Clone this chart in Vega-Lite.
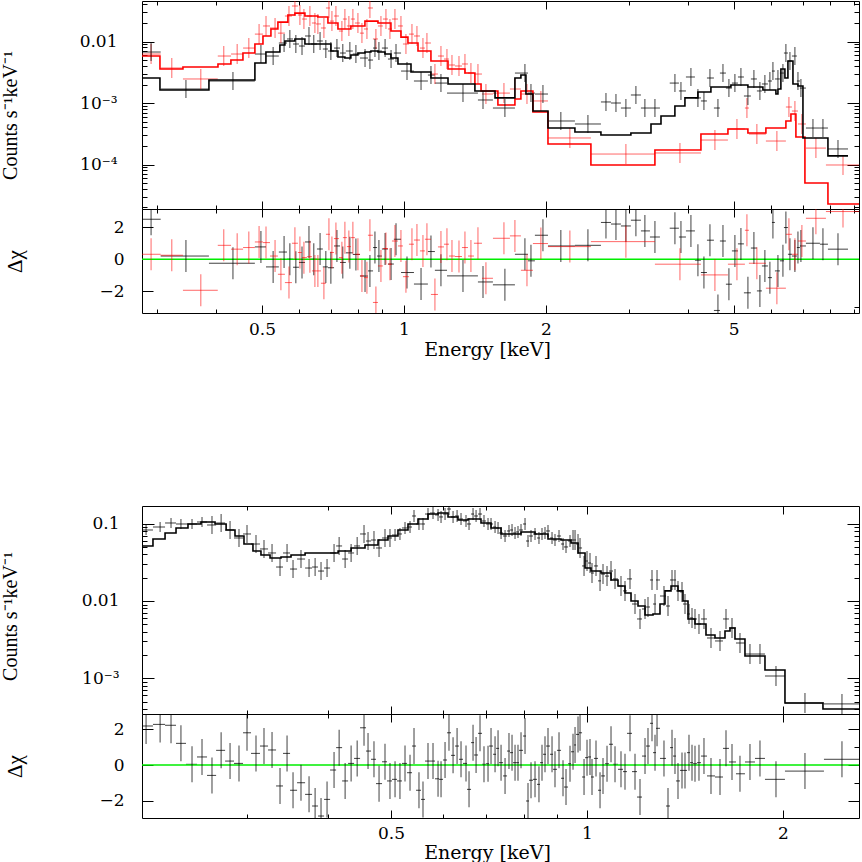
{
"$schema":"https://vega.github.io/schema/vega-lite/v6.json",
"padding":{"left":0,"top":0,"right":0,"bottom":0},
"spacing":146,
"config":{"view":{"stroke":null},"axis":{"grid":false,"domainColor":"#000000","domainWidth":1,"tickColor":"#000000","tickWidth":1,"labelFont":"DejaVu Serif","labelFontSize":17,"labelColor":"#000000","labelOverlap":false,"labelFlush":false,"labelBound":false,"titleFont":"Liberation Serif","titleFontWeight":"normal","titleColor":"#000000","titleFontSize":20}},
"datasets":{
"tb":[
{"e":0.291,"e1":0.278,"e2":0.305,"c":0.00675,"r":2.5},
{"e":0.345,"e1":0.305,"e2":0.386,"c":0.00169,"r":0.2},
{"e":0.434,"e1":0.386,"e2":0.483,"c":0.00228,"r":-0.25},
{"e":0.4975,"e1":0.483,"e2":0.510,"c":0.00626,"r":0.77},
{"e":0.528,"e1":0.510,"e2":0.543,"c":0.00581,"r":-0.48},
{"e":0.557,"e1":0.543,"e2":0.565,"c":0.00946,"r":0.45},
{"e":0.573,"e1":0.565,"e2":0.582,"c":0.0110,"r":0},
{"e":0.590,"e1":0.582,"e2":0.599,"c":0.00911,"r":-0.5},
{"e":0.608,"e1":0.599,"e2":0.617,"c":0.00845,"r":-0.2},
{"e":0.629,"e1":0.617,"e2":0.635,"c":0.0123,"r":1.08},
{"e":0.644,"e1":0.635,"e2":0.654,"c":0.00911,"r":0},
{"e":0.664,"e1":0.654,"e2":0.673,"c":0.0102,"r":0.64},
{"e":0.683,"e1":0.673,"e2":0.690,"c":0.00755,"r":-0.48},
{"e":0.700,"e1":0.690,"e2":0.711,"c":0.00701,"r":-0.53},
{"e":0.721,"e1":0.711,"e2":0.732,"c":0.00783,"r":0.83},
{"e":0.742,"e1":0.732,"e2":0.753,"c":0.0065,"r":-0.2},
{"e":0.768,"e1":0.753,"e2":0.779,"c":0.00701,"r":0.4},
{"e":0.791,"e1":0.779,"e2":0.807,"c":0.00626,"r":0.3},
{"e":0.827,"e1":0.807,"e2":0.839,"c":0.00539,"r":-1.05},
{"e":0.847,"e1":0.839,"e2":0.860,"c":0.0050,"r":-0.73},
{"e":0.868,"e1":0.860,"e2":0.877,"c":0.00783,"r":0.73},
{"e":0.885,"e1":0.877,"e2":0.898,"c":0.00701,"r":0.2},
{"e":0.912,"e1":0.898,"e2":0.925,"c":0.00783,"r":0.64},
{"e":0.939,"e1":0.925,"e2":0.952,"c":0.00519,"r":-0.3},
{"e":0.962,"e1":0.952,"e2":0.986,"c":0.0065,"r":1.25},
{"e":1.015,"e1":0.986,"e2":1.050,"c":0.00331,"r":-0.83},
{"e":1.087,"e1":1.050,"e2":1.124,"c":0.00228,"r":-1.55},
{"e":1.141,"e1":1.124,"e2":1.163,"c":0.00285,"r":0.48},
{"e":1.198,"e1":1.163,"e2":1.234,"c":0.00211,"r":-0.69},
{"e":1.334,"e1":1.234,"e2":1.435,"c":0.00145,"r":-1.04},
{"e":1.471,"e1":1.435,"e2":1.544,"c":0.00112,"r":-1.42},
{"e":1.637,"e1":1.544,"e2":1.719,"c":0.000829,"r":-1.6},
{"e":1.805,"e1":1.719,"e2":1.832,"c":0.00307,"r":0.31},
{"e":1.859,"e1":1.832,"e2":1.895,"c":0.00145,"r":-0.1},
{"e":1.971,"e1":1.895,"e2":2.020,"c":0.0014,"r":1.5},
{"e":2.151,"e1":2.020,"e2":2.304,"c":0.00051,"r":0.83},
{"e":2.455,"e1":2.304,"e2":2.616,"c":0.000456,"r":0.87},
{"e":2.681,"e1":2.616,"e2":2.747,"c":0.00104,"r":2.3},
{"e":2.815,"e1":2.747,"e2":2.884,"c":0.0010,"r":2.2},
{"e":2.955,"e1":2.884,"e2":3.028,"c":0.000829,"r":2.08},
{"e":3.103,"e1":3.028,"e2":3.180,"c":0.00135,"r":2.44},
{"e":3.242,"e1":3.180,"e2":3.323,"c":0.000829,"r":1.77},
{"e":3.405,"e1":3.323,"e2":3.489,"c":0.000829,"r":1.39},
{"e":3.754,"e1":3.66,"e2":3.828,"c":0.00211,"r":1.94},
{"e":3.866,"e1":3.828,"e2":3.961,"c":0.00157,"r":1.39},
{"e":4.059,"e1":3.961,"e2":4.139,"c":0.00265,"r":1.77},
{"e":4.200,"e1":4.139,"e2":4.262,"c":0.00121,"r":-0.06},
{"e":4.325,"e1":4.262,"e2":4.389,"c":0.00108,"r":-0.83},
{"e":4.454,"e1":4.389,"e2":4.541,"c":0.00255,"r":1.19},
{"e":4.631,"e1":4.541,"e2":4.676,"c":0.000829,"r":-3.2},
{"e":4.746,"e1":4.676,"e2":4.815,"c":0.00307,"r":1.14},
{"e":4.886,"e1":4.815,"e2":4.958,"c":0.00175,"r":-1.56},
{"e":5.031,"e1":4.958,"e2":5.106,"c":0.00211,"r":0.52},
{"e":5.181,"e1":5.106,"e2":5.257,"c":0.00265,"r":0.96},
{"e":5.361,"e1":5.257,"e2":5.439,"c":0.0013,"r":-2.1},
{"e":5.520,"e1":5.439,"e2":5.601,"c":0.00246,"r":0.7},
{"e":5.684,"e1":5.601,"e2":5.740,"c":0.00157,"r":-1.98},
{"e":5.824,"e1":5.740,"e2":5.911,"c":0.00204,"r":-0.42},
{"e":5.968,"e1":5.911,"e2":6.028,"c":0.00228,"r":-1.15},
{"e":6.057,"e1":6.028,"e2":6.116,"c":0.00331,"r":2.3},
{"e":6.207,"e1":6.116,"e2":6.267,"c":0.00246,"r":-0.73},
{"e":6.360,"e1":6.267,"e2":6.391,"c":0.00307,"r":-0.1},
{"e":6.453,"e1":6.391,"e2":6.517,"c":0.0065,"r":1.98},
{"e":6.581,"e1":6.517,"e2":6.645,"c":0.00482,"r":0.31},
{"e":6.743,"e1":6.645,"e2":6.809,"c":0.00581,"r":0.2},
{"e":6.844,"e1":6.809,"e2":6.910,"c":0.00228,"r":0.73},
{"e":6.944,"e1":6.910,"e2":7.116,"c":0.00175,"r":0.83},
{"e":7.364,"e1":7.116,"e2":7.619,"c":0.000392,"r":1.0},
{"e":7.732,"e1":7.619,"e2":7.923,"c":0.000392,"r":0.94},
{"e":8.321,"e1":7.923,"e2":8.738,"c":0.000179,"r":0.63}
],
"tr":[
{"e":0.291,"e1":0.278,"e2":0.305,"c":0.00626,"r":0.31},
{"e":0.322,"e1":0.305,"e2":0.340,"c":0.00371,"r":0.25},
{"e":0.371,"e1":0.340,"e2":0.403,"c":0.00246,"r":-1.94},
{"e":0.415,"e1":0.403,"e2":0.430,"c":0.00581,"r":0.87},
{"e":0.443,"e1":0.430,"e2":0.456,"c":0.00626,"r":0.63},
{"e":0.469,"e1":0.456,"e2":0.483,"c":0.00783,"r":0.73},
{"e":0.493,"e1":0.483,"e2":0.5025,"c":0.0132,"r":1.08},
{"e":0.510,"e1":0.5025,"e2":0.520,"c":0.0179,"r":1.04},
{"e":0.533,"e1":0.520,"e2":0.5405,"c":0.0166,"r":0.2},
{"e":0.5485,"e1":0.5405,"e2":0.5593,"c":0.0137,"r":-0.94},
{"e":0.5705,"e1":0.5593,"e2":0.5789,"c":0.026,"r":-1.46},
{"e":0.5873,"e1":0.5789,"e2":0.596,"c":0.0378,"r":1.0},
{"e":0.6018,"e1":0.596,"e2":0.6077,"c":0.027,"r":0.42},
{"e":0.6137,"e1":0.6077,"e2":0.6227,"c":0.0232,"r":0.1},
{"e":0.6319,"e1":0.6227,"e2":0.6381,"c":0.026,"r":0.16},
{"e":0.6475,"e1":0.6381,"e2":0.6507,"c":0.020,"r":-0.73},
{"e":0.657,"e1":0.6507,"e2":0.6668,"c":0.0193,"r":-0.73},
{"e":0.6766,"e1":0.6668,"e2":0.6833,"c":0.0166,"r":-1.5},
{"e":0.6934,"e1":0.6833,"e2":0.6968,"c":0.0351,"r":1.56},
{"e":0.7036,"e1":0.6968,"e2":0.7105,"c":0.0215,"r":0.42},
{"e":0.7175,"e1":0.7105,"e2":0.728,"c":0.026,"r":1.29},
{"e":0.7387,"e1":0.728,"e2":0.7423,"c":0.0148,"r":0.1},
{"e":0.7496,"e1":0.7423,"e2":0.757,"c":0.0232,"r":1.35},
{"e":0.7643,"e1":0.757,"e2":0.7718,"c":0.0179,"r":0.79},
{"e":0.7794,"e1":0.7718,"e2":0.7871,"c":0.0232,"r":1.35},
{"e":0.7988,"e1":0.7871,"e2":0.8066,"c":0.020,"r":0.31},
{"e":0.8146,"e1":0.8066,"e2":0.8226,"c":0.0137,"r":-1.04},
{"e":0.8347,"e1":0.8226,"e2":0.8388,"c":0.016,"r":-1.15},
{"e":0.847,"e1":0.8388,"e2":0.8595,"c":0.0351,"r":1.5},
{"e":0.8721,"e1":0.8595,"e2":0.8809,"c":0.011,"r":-2.7},
{"e":0.8938,"e1":0.8809,"e2":0.9026,"c":0.0179,"r":-0.42},
{"e":0.9159,"e1":0.9026,"e2":0.9249,"c":0.0232,"r":0.67},
{"e":0.9339,"e1":0.9249,"e2":0.9432,"c":0.016,"r":-0.31},
{"e":0.957,"e1":0.9432,"e2":0.9712,"c":0.0232,"r":1.14},
{"e":0.9855,"e1":0.9712,"e2":0.9951,"c":0.0179,"r":0.83},
{"e":1.0098,"e1":0.9951,"e2":1.0247,"c":0.00911,"r":-1.09},
{"e":1.0399,"e1":1.0247,"e2":1.050,"c":0.0132,"r":0.94},
{"e":1.0655,"e1":1.050,"e2":1.0812,"c":0.0123,"r":1.2},
{"e":1.0972,"e1":1.0812,"e2":1.1078,"c":0.00783,"r":0.52},
{"e":1.1188,"e1":1.1078,"e2":1.1408,"c":0.00946,"r":1.25},
{"e":1.1633,"e1":1.1408,"e2":1.1806,"c":0.00296,"r":-2.2},
{"e":1.198,"e1":1.1806,"e2":1.2157,"c":0.00581,"r":0.77},
{"e":1.2336,"e1":1.2157,"e2":1.2458,"c":0.00519,"r":0.94},
{"e":1.2642,"e1":1.2458,"e2":1.2828,"c":0.00415,"r":0.2},
{"e":1.3082,"e1":1.2828,"e2":1.3274,"c":0.0040,"r":0.17},
{"e":1.3469,"e1":1.3274,"e2":1.3669,"c":0.00431,"r":0.73},
{"e":1.3868,"e1":1.3669,"e2":1.4074,"c":0.00307,"r":0.2},
{"e":1.4352,"e1":1.4074,"e2":1.4636,"c":0.00296,"r":1.0},
{"e":1.4922,"e1":1.4636,"e2":1.5443,"c":0.0014,"r":-1.19},
{"e":1.6293,"e1":1.5443,"e2":1.6775,"c":0.00145,"r":1.31},
{"e":1.719,"e1":1.6775,"e2":1.7702,"c":0.00169,"r":1.46},
{"e":1.8231,"e1":1.7702,"e2":1.877,"c":0.0014,"r":-0.69},
{"e":1.9513,"e1":1.877,"e2":2.0199,"c":0.00108,"r":0.98},
{"e":2.248,"e1":2.0199,"e2":2.491,"c":0.00027,"r":0.79},
{"e":2.955,"e1":2.491,"e2":3.4046,"c":0.000148,"r":1.1},
{"e":3.847,"e1":3.4046,"e2":4.2621,"c":0.000154,"r":-0.31},
{"e":4.5634,"e1":4.2621,"e2":4.8626,"c":0.00025,"r":-0.98},
{"e":5.0812,"e1":4.8626,"e2":5.2829,"c":0.000378,"r":-0.31},
{"e":5.3349,"e1":5.2829,"e2":5.3867,"c":0.000829,"r":1.81},
{"e":5.6006,"e1":5.3867,"e2":5.8527,"c":0.000313,"r":-0.25},
{"e":6.1754,"e1":5.8527,"e2":6.4531,"c":0.000241,"r":-1.81},
{"e":6.5489,"e1":6.4531,"e2":6.6446,"c":0.000861,"r":1.56},
{"e":6.7434,"e1":6.6446,"e2":6.8436,"c":0.000741,"r":0.31},
{"e":6.9773,"e1":6.8436,"e2":7.1155,"c":0.000456,"r":1.14},
{"e":7.4712,"e1":7.1155,"e2":7.8454,"c":0.000185,"r":2.56},
{"e":8.527,"e1":7.8454,"e2":9.22,"c":0.0000982,"r":2.98}
],
"tbm":[
{"e":0.2784,"m":0.00255},{"e":0.3039,"m":0.00163},{"e":0.386,"m":0.00237},{"e":0.4831,"m":0.00447},{"e":0.5098,"m":0.00675},{"e":0.5458,"m":0.00877},{"e":0.5593,"m":0.0102},{"e":0.5873,"m":0.011},{"e":0.6167,"m":0.00911},{"e":0.7002,"m":0.00701},{"e":0.7246,"m":0.0056},{"e":0.7496,"m":0.00539},{"e":0.7718,"m":0.00604},{"e":0.7988,"m":0.0065},{"e":0.8266,"m":0.00675},{"e":0.8511,"m":0.00701},{"e":0.8809,"m":0.00675},{"e":0.9115,"m":0.00626},{"e":0.9385,"m":0.00539},{"e":0.9712,"m":0.00431},{"e":1.035,"m":0.00319},{"e":1.1408,"m":0.00255},{"e":1.240,"m":0.00204},{"e":1.414,"m":0.00157},{"e":1.560,"m":0.00121},{"e":1.719,"m":0.00255},{"e":1.770,"m":0.00285},{"e":1.814,"m":0.0014},{"e":1.877,"m":0.000741},{"e":2.020,"m":0.000392},{"e":2.304,"m":0.000338},{"e":2.616,"m":0.000302},{"e":3.028,"m":0.000325},{"e":3.340,"m":0.000456},{"e":3.507,"m":0.000615},{"e":3.7535,"m":0.000894},{"e":3.942,"m":0.00121},{"e":4.200,"m":0.00151},{"e":4.475,"m":0.00182},{"e":4.934,"m":0.00196},{"e":5.361,"m":0.00182},{"e":5.768,"m":0.00163},{"e":6.146,"m":0.0014},{"e":6.207,"m":0.00169},{"e":6.297,"m":0.00357},{"e":6.422,"m":0.00255},{"e":6.517,"m":0.00482},{"e":6.679,"m":0.00204},{"e":6.844,"m":0.00189},{"e":7.013,"m":0.00027},{"e":7.923,"m":0.000138},{"e":8.738,"m":0.000138}
],
"trm":[
{"e":0.2784,"m":0.00581},{"e":0.3039,"m":0.00357},{"e":0.340,"m":0.00385},{"e":0.4034,"m":0.00431},{"e":0.4297,"m":0.0050},{"e":0.4557,"m":0.0065},{"e":0.4831,"m":0.00911},{"e":0.5025,"m":0.0123},{"e":0.5224,"m":0.016},{"e":0.5405,"m":0.0207},{"e":0.5675,"m":0.027},{"e":0.5873,"m":0.029},{"e":0.6167,"m":0.026},{"e":0.657,"m":0.025},{"e":0.690,"m":0.020},{"e":0.7246,"m":0.016},{"e":0.7718,"m":0.0179},{"e":0.8266,"m":0.0215},{"e":0.8809,"m":0.020},{"e":0.9385,"m":0.0148},{"e":0.9855,"m":0.0118},{"e":1.0197,"m":0.00946},{"e":1.071,"m":0.00701},{"e":1.1408,"m":0.00482},{"e":1.240,"m":0.00357},{"e":1.347,"m":0.00307},{"e":1.414,"m":0.00204},{"e":1.457,"m":0.00157},{"e":1.582,"m":0.000928},{"e":1.719,"m":0.00116},{"e":1.770,"m":0.00157},{"e":1.877,"m":0.000714},{"e":2.020,"m":0.000215},{"e":2.491,"m":0.0000982},{"e":3.4046,"m":0.000172},{"e":4.2621,"m":0.000313},{"e":4.8626,"m":0.000378},{"e":5.3607,"m":0.000325},{"e":5.8527,"m":0.000392},{"e":6.4531,"m":0.00051},{"e":6.613,"m":0.000662},{"e":6.776,"m":0.00028},{"e":7.081,"m":0.00005},{"e":7.923,"m":0.0000228},{"e":9.22,"m":0.0000228}
],
"b":[
{"e":0.2102,"e1":0.2065,"e2":0.2154,"c":0.0829,"r":2.18},
{"e":0.2209,"e1":0.2154,"e2":0.2248,"c":0.0906,"r":2.27},
{"e":0.2296,"e1":0.2248,"e2":0.2337,"c":0.1021,"r":2.22},
{"e":0.2378,"e1":0.2337,"e2":0.2421,"c":0.0991,"r":1.21},
{"e":0.2473,"e1":0.2421,"e2":0.2517,"c":0.0991,"r":0.04},
{"e":0.2562,"e1":0.2517,"e2":0.2608,"c":0.1052,"r":0.45},
{"e":0.2654,"e1":0.2608,"e2":0.2693,"c":0.0962,"r":-0.58},
{"e":0.2741,"e1":0.2693,"e2":0.2780,"c":0.1021,"r":0.82},
{"e":0.2829,"e1":0.2780,"e2":0.2869,"c":0.0829,"r":0.22},
{"e":0.2920,"e1":0.2869,"e2":0.2962,"c":0.0653,"r":0.09},
{"e":0.3004,"e1":0.2962,"e2":0.3047,"c":0.0736,"r":1.8},
{"e":0.3101,"e1":0.3047,"e2":0.3145,"c":0.0546,"r":0.65},
{"e":0.3190,"e1":0.3145,"e2":0.3236,"c":0.0471,"r":1.06},
{"e":0.3282,"e1":0.3236,"e2":0.3329,"c":0.0418,"r":0.84},
{"e":0.3376,"e1":0.3329,"e2":0.3412,"c":0.0275,"r":-1.17},
{"e":0.3461,"e1":0.3412,"e2":0.3498,"c":0.0418,"r":0.65},
{"e":0.3535,"e1":0.3498,"e2":0.3586,"c":0.0259,"r":-1.41},
{"e":0.3636,"e1":0.3586,"e2":0.3689,"c":0.0349,"r":-0.99},
{"e":0.3741,"e1":0.3689,"e2":0.3781,"c":0.0267,"r":-1.64},
{"e":0.3822,"e1":0.3781,"e2":0.3862,"c":0.0275,"r":-2.29},
{"e":0.3903,"e1":0.3862,"e2":0.3945,"c":0.0244,"r":-2.85},
{"e":0.3987,"e1":0.3945,"e2":0.4030,"c":0.0267,"r":-1.92},
{"e":0.4087,"e1":0.4030,"e2":0.4117,"c":0.0418,"r":-0.28},
{"e":0.4161,"e1":0.4117,"e2":0.4205,"c":0.0515,"r":0.97},
{"e":0.4250,"e1":0.4205,"e2":0.4295,"c":0.0349,"r":-0.89},
{"e":0.4341,"e1":0.4295,"e2":0.4387,"c":0.0418,"r":0.09},
{"e":0.4435,"e1":0.4387,"e2":0.4481,"c":0.0515,"r":0.37},
{"e":0.4544,"e1":0.4481,"e2":0.4576,"c":0.0736,"r":2.08},
{"e":0.4609,"e1":0.4576,"e2":0.4658,"c":0.0597,"r":0.78},
{"e":0.4707,"e1":0.4658,"e2":0.4741,"c":0.0615,"r":0.32},
{"e":0.4792,"e1":0.4741,"e2":0.4843,"c":0.0485,"r":-1.04},
{"e":0.4894,"e1":0.4843,"e2":0.4929,"c":0.0653,"r":0.18},
{"e":0.4981,"e1":0.4929,"e2":0.5017,"c":0.0653,"r":-0.89},
{"e":0.5071,"e1":0.5017,"e2":0.5107,"c":0.0714,"r":-0.8},
{"e":0.5160,"e1":0.5107,"e2":0.5197,"c":0.0736,"r":-0.89},
{"e":0.5253,"e1":0.5197,"e2":0.5291,"c":0.0880,"r":0.09},
{"e":0.5347,"e1":0.5291,"e2":0.5385,"c":0.0906,"r":-0.43},
{"e":0.5423,"e1":0.5385,"e2":0.5462,"c":0.1258,"r":1.06},
{"e":0.5519,"e1":0.5462,"e2":0.5559,"c":0.0991,"r":-1.41},
{"e":0.5598,"e1":0.5559,"e2":0.5638,"c":0.0991,"r":-1.92},
{"e":0.5698,"e1":0.5638,"e2":0.5738,"c":0.1334,"r":0.22},
{"e":0.5800,"e1":0.5738,"e2":0.5841,"c":0.1374,"r":0.22},
{"e":0.5904,"e1":0.5841,"e2":0.5925,"c":0.1297,"r":-0.77},
{"e":0.5967,"e1":0.5925,"e2":0.6009,"c":0.1222,"r":-0.8},
{"e":0.6052,"e1":0.6009,"e2":0.6095,"c":0.1334,"r":0.28},
{"e":0.6137,"e1":0.6095,"e2":0.6181,"c":0.1549,"r":1.8},
{"e":0.6226,"e1":0.6181,"e2":0.6270,"c":0.1222,"r":0.54},
{"e":0.6315,"e1":0.6270,"e2":0.6358,"c":0.1258,"r":1.06},
{"e":0.6404,"e1":0.6358,"e2":0.6449,"c":0.1150,"r":0.32},
{"e":0.6518,"e1":0.6449,"e2":0.6541,"c":0.1084,"r":0.09},
{"e":0.6588,"e1":0.6541,"e2":0.6635,"c":0.0991,"r":-1.36},
{"e":0.6682,"e1":0.6635,"e2":0.6706,"c":0.1334,"r":1.25},
{"e":0.6754,"e1":0.6706,"e2":0.6801,"c":0.1258,"r":0.56},
{"e":0.6849,"e1":0.6801,"e2":0.6898,"c":0.1334,"r":1.77},
{"e":0.6946,"e1":0.6898,"e2":0.6996,"c":0.1084,"r":0.04},
{"e":0.7046,"e1":0.6996,"e2":0.7071,"c":0.0991,"r":0.07},
{"e":0.7121,"e1":0.7071,"e2":0.7172,"c":0.0991,"r":1.06},
{"e":0.7223,"e1":0.7172,"e2":0.7249,"c":0.0906,"r":0.6},
{"e":0.7300,"e1":0.7249,"e2":0.7326,"c":0.0880,"r":0.93},
{"e":0.7378,"e1":0.7326,"e2":0.7430,"c":0.0758,"r":0.13},
{"e":0.7483,"e1":0.7430,"e2":0.7536,"c":0.0693,"r":-0.61},
{"e":0.7588,"e1":0.7536,"e2":0.7616,"c":0.0805,"r":0.78},
{"e":0.7670,"e1":0.7616,"e2":0.7697,"c":0.0829,"r":0.69},
{"e":0.7752,"e1":0.7697,"e2":0.7779,"c":0.0758,"r":0.13},
{"e":0.7834,"e1":0.7779,"e2":0.7862,"c":0.0781,"r":0.13},
{"e":0.7918,"e1":0.7862,"e2":0.7974,"c":0.0829,"r":0.82},
{"e":0.8031,"e1":0.7974,"e2":0.8059,"c":0.0991,"r":1.62},
{"e":0.8116,"e1":0.8059,"e2":0.8145,"c":0.0597,"r":-2.01},
{"e":0.8203,"e1":0.8145,"e2":0.8261,"c":0.0693,"r":-0.85},
{"e":0.8320,"e1":0.8261,"e2":0.8379,"c":0.0736,"r":-0.8},
{"e":0.8437,"e1":0.8379,"e2":0.8468,"c":0.0653,"r":-1.08},
{"e":0.8528,"e1":0.8468,"e2":0.8558,"c":0.0736,"r":0.13},
{"e":0.8619,"e1":0.8558,"e2":0.8650,"c":0.0758,"r":0.6},
{"e":0.8711,"e1":0.8650,"e2":0.8773,"c":0.0805,"r":1.06},
{"e":0.8836,"e1":0.8773,"e2":0.8866,"c":0.0653,"r":0.6},
{"e":0.8929,"e1":0.8866,"e2":0.8993,"c":0.0615,"r":-0.24},
{"e":0.9057,"e1":0.8993,"e2":0.9122,"c":0.0693,"r":0.82},
{"e":0.9186,"e1":0.9122,"e2":0.9218,"c":0.0546,"r":-0.74},
{"e":0.9284,"e1":0.9218,"e2":0.9350,"c":0.0500,"r":-1.23},
{"e":0.9416,"e1":0.9350,"e2":0.9450,"c":0.0597,"r":0.07},
{"e":0.9517,"e1":0.9450,"e2":0.9551,"c":0.0615,"r":0.74},
{"e":0.9585,"e1":0.9551,"e2":0.9619,"c":0.0615,"r":1.12},
{"e":0.9687,"e1":0.9619,"e2":0.9721,"c":0.0546,"r":1.71},
{"e":0.9756,"e1":0.9721,"e2":0.9826,"c":0.0485,"r":1.8},
{"e":0.9895,"e1":0.9826,"e2":0.9930,"c":0.0284,"r":-0.67},
{"e":1.0,"e1":0.9930,"e2":1.0035,"c":0.0329,"r":0.41},
{"e":1.0106,"e1":1.0035,"e2":1.0142,"c":0.0310,"r":0.45},
{"e":1.0178,"e1":1.0142,"e2":1.0250,"c":0.0230,"r":-0.67},
{"e":1.0323,"e1":1.0250,"e2":1.0397,"c":0.0284,"r":0.37},
{"e":1.0471,"e1":1.0397,"e2":1.0508,"c":0.0182,"r":-1.41},
{"e":1.0582,"e1":1.0508,"e2":1.0657,"c":0.0223,"r":-0.61},
{"e":1.0733,"e1":1.0657,"e2":1.0809,"c":0.0210,"r":0.07},
{"e":1.0886,"e1":1.0809,"e2":1.0963,"c":0.0244,"r":1.16},
{"e":1.1041,"e1":1.0963,"e2":1.1158,"c":0.0193,"r":0.04},
{"e":1.1277,"e1":1.1158,"e2":1.1357,"c":0.0156,"r":-0.24},
{"e":1.1438,"e1":1.1357,"e2":1.1519,"c":0.0135,"r":-0.37},
{"e":1.1642,"e1":1.1519,"e2":1.1725,"c":0.0193,"r":1.77},
{"e":1.1850,"e1":1.1725,"e2":1.1934,"c":0.00914,"r":-0.37},
{"e":1.2061,"e1":1.1934,"e2":1.2147,"c":0.00585,"r":-1.79},
{"e":1.2277,"e1":1.2147,"e2":1.2320,"c":0.00788,"r":0.5},
{"e":1.2407,"e1":1.2320,"e2":1.2495,"c":0.00836,"r":1.06},
{"e":1.2584,"e1":1.2495,"e2":1.2629,"c":0.0187,"r":2.33},
{"e":1.2719,"e1":1.2629,"e2":1.2764,"c":0.00914,"r":0.69},
{"e":1.2810,"e1":1.2764,"e2":1.2945,"c":0.0187,"r":2.05},
{"e":1.3129,"e1":1.2945,"e2":1.3223,"c":0.0116,"r":0.37},
{"e":1.3317,"e1":1.3223,"e2":1.3412,"c":0.00861,"r":-2.29},
{"e":1.3507,"e1":1.3412,"e2":1.3554,"c":0.0187,"r":0.97},
{"e":1.3650,"e1":1.3554,"e2":1.3699,"c":0.0187,"r":0.5},
{"e":1.3796,"e1":1.3699,"e2":1.3894,"c":0.0135,"r":-0.89},
{"e":1.3993,"e1":1.3894,"e2":1.4042,"c":0.0131,"r":-0.3},
{"e":1.4142,"e1":1.4042,"e2":1.4243,"c":0.00914,"r":-0.3},
{"e":1.4343,"e1":1.4243,"e2":1.4394,"c":0.00679,"r":0.69},
{"e":1.4497,"e1":1.4394,"e2":1.4548,"c":0.00603,"r":0.13},
{"e":1.4651,"e1":1.4548,"e2":1.4756,"c":0.00585,"r":0.07},
{"e":1.4859,"e1":1.4756,"e2":1.4965,"c":0.00504,"r":0.13},
{"e":1.5124,"e1":1.4965,"e2":1.5287,"c":0.00585,"r":0.5},
{"e":1.5504,"e1":1.5287,"e2":1.5725,"c":0.00332,"r":-0.61},
{"e":1.6006,"e1":1.5725,"e2":1.6176,"c":0.00304,"r":-0.67},
{"e":1.6349,"e1":1.6176,"e2":1.6523,"c":0.00585,"r":0.93},
{"e":1.6700,"e1":1.6523,"e2":1.6937,"c":0.00448,"r":0.17},
{"e":1.7178,"e1":1.6937,"e2":1.7484,"c":0.00286,"r":-0.49},
{"e":1.7796,"e1":1.7484,"e2":1.8114,"c":0.00206,"r":0.17},
{"e":1.8437,"e1":1.8114,"e2":1.8766,"c":0.00206,"r":0.37},
{"e":1.9511,"e1":1.8766,"e2":2.0141,"c":0.00107,"r":-0.8},
{"e":2.1617,"e1":2.0141,"e2":2.3119,"c":0.000479,"r":-0.34},
{"e":2.4640,"e1":2.3119,"e2":2.617,"c":0.000466,"r":0.32}
],
"bm":[
{"e":0.2065,"m":0.0515},{"e":0.2154,"m":0.0634},{"e":0.2248,"m":0.0758},{"e":0.2337,"m":0.0880},{"e":0.2438,"m":0.0991},{"e":0.2553,"m":0.1052},{"e":0.2683,"m":0.0991},{"e":0.2790,"m":0.0829},{"e":0.2879,"m":0.0693},{"e":0.2972,"m":0.0546},{"e":0.3068,"m":0.0444},{"e":0.3156,"m":0.0394},{"e":0.3259,"m":0.0360},{"e":0.3388,"m":0.0371},{"e":0.3510,"m":0.0394},{"e":0.3689,"m":0.0418},{"e":0.4146,"m":0.0444},{"e":0.4341,"m":0.0485},{"e":0.4560,"m":0.0530},{"e":0.4775,"m":0.0615},{"e":0.4946,"m":0.0693},{"e":0.5124,"m":0.0829},{"e":0.5309,"m":0.0991},{"e":0.5500,"m":0.1150},{"e":0.5698,"m":0.1334},{"e":0.5904,"m":0.1374},{"e":0.6116,"m":0.1222},{"e":0.6336,"m":0.1117},{"e":0.6565,"m":0.1150},{"e":0.6873,"m":0.1021},{"e":0.7121,"m":0.0880},{"e":0.7378,"m":0.0736},{"e":0.7918,"m":0.0781},{"e":0.8320,"m":0.0736},{"e":0.8711,"m":0.0634},{"e":0.9122,"m":0.0615},{"e":0.9450,"m":0.0562},{"e":0.9687,"m":0.0418},{"e":0.9930,"m":0.0267},{"e":1.0142,"m":0.0244},{"e":1.0508,"m":0.0230},{"e":1.0886,"m":0.0187},{"e":1.1158,"m":0.0156},{"e":1.1438,"m":0.0127},{"e":1.1684,"m":0.0100},{"e":1.1976,"m":0.00861},{"e":1.2277,"m":0.00659},{"e":1.2629,"m":0.00679},{"e":1.2945,"m":0.00914},{"e":1.3176,"m":0.0135},{"e":1.3460,"m":0.0156},{"e":1.3796,"m":0.0135},{"e":1.4042,"m":0.0100},{"e":1.4293,"m":0.00585},{"e":1.4651,"m":0.00504},{"e":1.5232,"m":0.00363},{"e":1.5725,"m":0.00332},{"e":1.6291,"m":0.00409},{"e":1.6582,"m":0.00448},{"e":1.6877,"m":0.00322},{"e":1.7484,"m":0.00194},{"e":1.8766,"m":0.00128},{"e":2.0141,"m":0.000479},{"e":2.3038,"m":0.000401},{"e":2.617,"m":0.000401}
],
"zero":[{"z":0}]
},
"vconcat":[
{"spacing":0,"bounds":"flush","vconcat":[
{"width":717,"height":208,"resolve":{"axis":{"x":"independent","y":"independent"}},
"layer":[
{"layer":[
{"data":{"name":"tb"},"mark":{"type":"rule","color":"#000000","opacity":0.75,"clip":true},
"encoding":{"x":{"field":"e1","type":"quantitative","scale":{"type":"log","domain":[0.2784,9.22],"nice":false},
"axis":{"orient":"bottom","values":[0.3,0.4,0.5,0.6,0.7,0.8,0.9,1,2,3,4,5,6,7,8,9],"labels":false,"title":null,"tickSize":{"condition":{"test":"datum.value==0.5||datum.value==1||datum.value==2||datum.value==5","value":-8},"value":-4}}},
"x2":{"field":"e2"},
"y":{"field":"c","type":"quantitative","scale":{"type":"log","domain":[0.0000189,0.0456],"nice":false},
"axis":{"orient":"left","values":[0.00002,0.00003,0.00004,0.00005,0.00006,0.00007,0.00008,0.00009,0.0001,0.0002,0.0003,0.0004,0.0005,0.0006,0.0007,0.0008,0.0009,0.001,0.002,0.003,0.004,0.005,0.006,0.007,0.008,0.009,0.01,0.02,0.03,0.04],
"labelExpr":"datum.value==0.01?'0.01':datum.value==0.001?'10⁻³':datum.value==0.0001?'10⁻⁴':''","labelPadding":37,"labelOverlap":false,
"labelFontSize":{"condition":{"test":"datum.value==0.01||datum.value==0.001||datum.value==0.0001","value":17},"value":1},
"title":"Counts s⁻¹keV⁻¹","titleX":-125.5,"titleY":114,"titleAngle":270,"titleBaseline":"alphabetic","titleAlign":"center",
"tickSize":{"condition":{"test":"datum.value==0.01||datum.value==0.001||datum.value==0.0001","value":-12},"value":-5}}}}},
{"data":{"name":"tr"},"mark":{"type":"rule","color":"#ff0000","opacity":0.6,"clip":true},
"encoding":{"x":{"field":"e1","type":"quantitative"},"x2":{"field":"e2"},"y":{"field":"c","type":"quantitative"}}},
{"data":{"name":"tr"},"mark":{"type":"tick","orient":"vertical","size":20,"thickness":1,"color":"#ff0000","opacity":0.6,"clip":true},
"encoding":{"x":{"field":"e","type":"quantitative"},"y":{"field":"c","type":"quantitative"}}},
{"data":{"name":"trm"},"mark":{"type":"line","interpolate":"step-after","color":"#ff0000","strokeWidth":1.6,"clip":true},
"encoding":{"x":{"field":"e","type":"quantitative"},"y":{"field":"m","type":"quantitative"}}},
{"data":{"name":"tbm"},"mark":{"type":"line","interpolate":"step-after","color":"#000000","strokeWidth":1.6,"clip":true},
"encoding":{"x":{"field":"e","type":"quantitative"},"y":{"field":"m","type":"quantitative"}}}
]},
{"data":{"name":"tb"},"mark":{"type":"tick","orient":"vertical","size":18,"thickness":1,"color":"#000000","opacity":0.75,"clip":true},
"encoding":{"x":{"field":"e","type":"quantitative","axis":{"orient":"top","values":[0.3,0.4,0.5,0.6,0.7,0.8,0.9,1,2,3,4,5,6,7,8,9],"labels":false,"title":null,"tickSize":{"condition":{"test":"datum.value==0.5||datum.value==1||datum.value==2||datum.value==5","value":-8},"value":-4}}},
"y":{"field":"c","type":"quantitative","axis":{"orient":"right","values":[0.00002,0.00003,0.00004,0.00005,0.00006,0.00007,0.00008,0.00009,0.0001,0.0002,0.0003,0.0004,0.0005,0.0006,0.0007,0.0008,0.0009,0.001,0.002,0.003,0.004,0.005,0.006,0.007,0.008,0.009,0.01,0.02,0.03,0.04],"labels":false,"title":null,"tickSize":{"condition":{"test":"datum.value==0.01||datum.value==0.001||datum.value==0.0001","value":-12},"value":-5}}}}}
]},
{"width":717,"height":104,"resolve":{"axis":{"x":"independent","y":"independent"}},
"layer":[
{"layer":[
{"data":{"name":"tb"},"mark":{"type":"rule","color":"#000000","opacity":0.75,"clip":true},
"encoding":{"x":{"field":"e1","type":"quantitative","scale":{"type":"log","domain":[0.2784,9.22],"nice":false},
"axis":{"orient":"bottom","values":[0.3,0.4,0.5,0.6,0.7,0.8,0.9,1,2,3,4,5,6,7,8,9],"labelExpr":"datum.value==0.5?'0.5':datum.value==1?'1':datum.value==2?'2':datum.value==5?'5':''","labelBaseline":"alphabetic","labelPadding":29,"labelOverlap":false,
"labelFontSize":{"condition":{"test":"datum.value==0.5||datum.value==1||datum.value==2||datum.value==5","value":17},"value":1},
"title":"Energy [keV]","titleFont":"DejaVu Serif","titleFontSize":19,"titleX":345,"titleY":42,"titleBaseline":"alphabetic","titleAlign":"center","titleAngle":0,
"tickSize":{"condition":{"test":"datum.value==0.5||datum.value==1||datum.value==2||datum.value==5","value":-8},"value":-4}}},
"x2":{"field":"e2"},
"y":{"field":"r","type":"quantitative","scale":{"domain":[-3.36,3.14],"nice":false,"zero":false},
"axis":{"orient":"left","values":[-2,-1,0,1,2],"labelExpr":"datum.value==2?'2':datum.value==0?'0':datum.value==-2?'−2':''","labelPadding":29,"labelOverlap":false,
"labelFontSize":{"condition":{"test":"datum.value==-2||datum.value==0||datum.value==2","value":17},"value":1},
"title":"Δχ","titleFontSize":21,"titleX":-121,"titleAngle":270,"titleBaseline":"alphabetic","titleAlign":"center",
"tickSize":{"condition":{"test":"datum.value==-2||datum.value==0||datum.value==2","value":-11},"value":-5}}}}},
{"data":{"name":"zero"},"mark":{"type":"rule","color":"#00ee00","strokeWidth":1.3},
"encoding":{"y":{"field":"z","type":"quantitative"}}}
]},
{"layer":[
{"data":{"name":"tb"},"mark":{"type":"tick","orient":"vertical","size":32,"thickness":1,"color":"#000000","opacity":0.75,"clip":true},
"encoding":{"x":{"field":"e","type":"quantitative","axis":{"orient":"top","values":[0.3,0.4,0.5,0.6,0.7,0.8,0.9,1,2,3,4,5,6,7,8,9],"labels":false,"title":null,"tickSize":{"condition":{"test":"datum.value==0.5||datum.value==1||datum.value==2||datum.value==5","value":-8},"value":-4}}},
"y":{"field":"r","type":"quantitative","axis":{"orient":"right","values":[-3,-2,-1,0,1,2,3],"labels":false,"title":null,"tickSize":{"condition":{"test":"datum.value==-2||datum.value==0||datum.value==2","value":-11},"value":-5}}}}},
{"data":{"name":"tr"},"mark":{"type":"rule","color":"#ff0000","opacity":0.6,"clip":true},
"encoding":{"x":{"field":"e1","type":"quantitative"},"x2":{"field":"e2"},"y":{"field":"r","type":"quantitative"}}},
{"data":{"name":"tr"},"mark":{"type":"tick","orient":"vertical","size":32,"thickness":1,"color":"#ff0000","opacity":0.6,"clip":true},
"encoding":{"x":{"field":"e","type":"quantitative"},"y":{"field":"r","type":"quantitative"}}}
]}
]}
]},
{"spacing":0,"bounds":"flush","vconcat":[
{"width":717,"height":208,"resolve":{"axis":{"x":"independent","y":"independent"}},
"layer":[
{"layer":[
{"data":{"name":"b"},"mark":{"type":"rule","color":"#000000","opacity":0.75,"clip":true},
"encoding":{"x":{"field":"e1","type":"quantitative","scale":{"type":"log","domain":[0.2072,2.617],"nice":false},
"axis":{"orient":"bottom","values":[0.3,0.4,0.5,0.6,0.7,0.8,0.9,1,2],"labels":false,"title":null,"tickSize":{"condition":{"test":"datum.value==0.5||datum.value==1||datum.value==2","value":-8},"value":-4}}},
"x2":{"field":"e2"},
"y":{"field":"c","type":"quantitative","scale":{"type":"log","domain":[0.000345,0.1694],"nice":false},
"axis":{"orient":"left","values":[0.0004,0.0005,0.0006,0.0007,0.0008,0.0009,0.001,0.002,0.003,0.004,0.005,0.006,0.007,0.008,0.009,0.01,0.02,0.03,0.04,0.05,0.06,0.07,0.08,0.09,0.1],
"labelExpr":"datum.value==0.1?'0.1':datum.value==0.01?'0.01':datum.value==0.001?'10⁻³':''","labelPadding":35,"labelOverlap":false,
"labelFontSize":{"condition":{"test":"datum.value==0.1||datum.value==0.01||datum.value==0.001","value":17},"value":1},
"title":"Counts s⁻¹keV⁻¹","titleX":-125.5,"titleY":110,"titleAngle":270,"titleBaseline":"alphabetic","titleAlign":"center",
"tickSize":{"condition":{"test":"datum.value==0.1||datum.value==0.01||datum.value==0.001","value":-12},"value":-5}}}}},
{"data":{"name":"bm"},"mark":{"type":"line","interpolate":"step-after","color":"#000000","strokeWidth":1.6,"clip":true},
"encoding":{"x":{"field":"e","type":"quantitative"},"y":{"field":"m","type":"quantitative"}}}
]},
{"data":{"name":"b"},"mark":{"type":"tick","orient":"vertical","thickness":1,"color":"#000000","opacity":0.75,"clip":true},
"encoding":{"x":{"field":"e","type":"quantitative","axis":{"orient":"top","values":[0.3,0.4,0.5,0.6,0.7,0.8,0.9,1,2],"labels":false,"title":null,"tickSize":{"condition":{"test":"datum.value==0.5||datum.value==1||datum.value==2","value":-8},"value":-4}}},
"y":{"field":"c","type":"quantitative","axis":{"orient":"right","values":[0.0004,0.0005,0.0006,0.0007,0.0008,0.0009,0.001,0.002,0.003,0.004,0.005,0.006,0.007,0.008,0.009,0.01,0.02,0.03,0.04,0.05,0.06,0.07,0.08,0.09,0.1],"labels":false,"title":null,"tickSize":{"condition":{"test":"datum.value==0.1||datum.value==0.01||datum.value==0.001","value":-12},"value":-5}}},
"size":{"condition":[{"test":"datum.e < 0.26","value":10},{"test":"datum.e < 0.5","value":18},{"test":"datum.e < 0.95","value":12}],"value":20}}}
]},
{"width":717,"height":104,"resolve":{"axis":{"x":"independent","y":"independent"}},
"layer":[
{"layer":[
{"data":{"name":"b"},"mark":{"type":"rule","color":"#000000","opacity":0.75,"clip":true},
"encoding":{"x":{"field":"e1","type":"quantitative","scale":{"type":"log","domain":[0.2072,2.617],"nice":false},
"axis":{"orient":"bottom","values":[0.3,0.4,0.5,0.6,0.7,0.8,0.9,1,2],"labelExpr":"datum.value==0.5?'0.5':datum.value==1?'1':datum.value==2?'2':''","labelBaseline":"alphabetic","labelPadding":28,"labelOverlap":false,
"labelFontSize":{"condition":{"test":"datum.value==0.5||datum.value==1||datum.value==2","value":17},"value":1},
"title":"Energy [keV]","titleFont":"DejaVu Serif","titleFontSize":19,"titleX":345,"titleY":40,"titleBaseline":"alphabetic","titleAlign":"center","titleAngle":0,
"tickSize":{"condition":{"test":"datum.value==0.5||datum.value==1||datum.value==2","value":-8},"value":-4}}},
"x2":{"field":"e2"},
"y":{"field":"r","type":"quantitative","scale":{"domain":[-2.96,2.85],"nice":false,"zero":false},
"axis":{"orient":"left","values":[-3,-2,-1,0,1,2,3],"labelExpr":"datum.value==2?'2':datum.value==0?'0':datum.value==-2?'−2':''","labelPadding":29,"labelOverlap":false,
"labelFontSize":{"condition":{"test":"datum.value==-2||datum.value==0||datum.value==2","value":17},"value":1},
"title":"Δχ","titleFontSize":21,"titleX":-121,"titleAngle":270,"titleBaseline":"alphabetic","titleAlign":"center",
"tickSize":{"condition":{"test":"datum.value==-2||datum.value==0||datum.value==2","value":-11},"value":-5}}}}},
{"data":{"name":"zero"},"mark":{"type":"rule","color":"#00ee00","strokeWidth":1.3},
"encoding":{"y":{"field":"z","type":"quantitative"}}}
]},
{"data":{"name":"b"},"mark":{"type":"tick","orient":"vertical","size":36,"thickness":1,"color":"#000000","opacity":0.75,"clip":true},
"encoding":{"x":{"field":"e","type":"quantitative","axis":{"orient":"top","values":[0.3,0.4,0.5,0.6,0.7,0.8,0.9,1,2],"labels":false,"title":null,"tickSize":{"condition":{"test":"datum.value==0.5||datum.value==1||datum.value==2","value":-8},"value":-4}}},
"y":{"field":"r","type":"quantitative","axis":{"orient":"right","values":[-3,-2,-1,0,1,2,3],"labels":false,"title":null,"tickSize":{"condition":{"test":"datum.value==-2||datum.value==0||datum.value==2","value":-11},"value":-5}}}}}
]}
]}
]
}
